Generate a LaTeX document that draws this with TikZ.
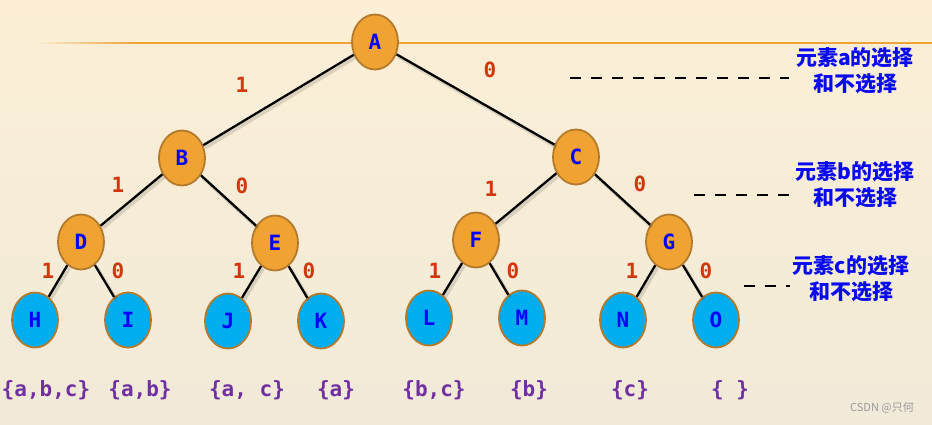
\documentclass[tikz,border=0pt]{standalone}
\usepackage{fontspec}
\usetikzlibrary{shapes.geometric,fadings}
\newfontfamily\mono{DejaVu Sans Mono}
\newfontfamily\cjk{Noto Sans CJK SC}
\definecolor{bgtop}{HTML}{FCEFD6}
\definecolor{bgbot}{HTML}{F1EAD8}
\definecolor{rule}{HTML}{EFA33A}
\definecolor{orangefill}{HTML}{F0A232}
\definecolor{nodeborder}{HTML}{B37A2C}
\definecolor{leafblue}{HTML}{00AEEF}
\definecolor{letterblue}{HTML}{0000FF}
\definecolor{bitred}{HTML}{D2380E}
\definecolor{setpurple}{HTML}{7030A0}
\definecolor{noteblue}{HTML}{0A0AF0}
\definecolor{mark}{HTML}{9A9A9A}
\tikzfading[name=rulefadein, left color=transparent!100, right color=transparent!0]
\begin{document}
\begin{tikzpicture}[x=1pt,y=-1pt,
  inner/.style={ellipse, draw=nodeborder, line width=1.8pt, fill=orangefill,
    minimum width=46pt, minimum height=55pt, inner sep=0pt,
    font=\mono\bfseries\fontsize{21}{21}\selectfont, text=letterblue},
  leaf/.style={inner, fill=leafblue},
  edge/.style={line width=2.3pt, black},
  shadowedge/.style={line width=3.5pt, black, opacity=0.12},
  bit/.style={font=\mono\bfseries\fontsize{21}{21}\selectfont, text=bitred, inner sep=0pt},
  setlab/.style={font=\mono\bfseries\fontsize{21}{21}\selectfont, text=setpurple, inner sep=0pt},
  note/.style={align=center, font=\cjk\bfseries\fontsize{21}{26}\selectfont, text=noteblue, inner sep=0pt},
  guide/.style={line width=2.8pt, black, dash pattern=on 11pt off 10pt}]
\useasboundingbox (0,0) rectangle (932,424);
\shade[top color=bgtop, bottom color=bgbot] (0,0) rectangle (932,424);
% orange rule with faded left end
\fill[rule, path fading=rulefadein] (35,41.5) rectangle (136,43.7);
\fill[rule] (135,41.5) rectangle (932,43.7);
% nodes
\node[inner] (A) at (375,42) {A};
\node[inner] (B) at (182,158) {B};
\node[inner] (C) at (576,157) {C};
\node[inner] (D) at (81,242) {D};
\node[inner] (E) at (275,243) {E};
\node[inner] (F) at (476,240) {F};
\node[inner] (G) at (669,242) {G};
\node[leaf] (H) at (35,320) {H};
\node[leaf] (I) at (128,320) {I};
\node[leaf] (J) at (228,321) {J};
\node[leaf] (K) at (321,321) {K};
\node[leaf] (L) at (429,318) {L};
\node[leaf] (M) at (522,318) {M};
\node[leaf] (N) at (623,320) {N};
\node[leaf] (O) at (716,320) {O};
% edge shadows
\begin{scope}[transform canvas={shift={(2pt,-2.5pt)}}]
\draw[shadowedge] (A) -- (B);
\draw[shadowedge] (A) -- (C);
\draw[shadowedge] (B) -- (D);
\draw[shadowedge] (B) -- (E);
\draw[shadowedge] (C) -- (F);
\draw[shadowedge] (C) -- (G);
\draw[shadowedge] (D) -- (H);
\draw[shadowedge] (D) -- (I);
\draw[shadowedge] (E) -- (J);
\draw[shadowedge] (E) -- (K);
\draw[shadowedge] (F) -- (L);
\draw[shadowedge] (F) -- (M);
\draw[shadowedge] (G) -- (N);
\draw[shadowedge] (G) -- (O);
\end{scope}
% edges
\draw[edge] (A) -- (B);
\draw[edge] (A) -- (C);
\draw[edge] (B) -- (D);
\draw[edge] (B) -- (E);
\draw[edge] (C) -- (F);
\draw[edge] (C) -- (G);
\draw[edge] (D) -- (H);
\draw[edge] (D) -- (I);
\draw[edge] (E) -- (J);
\draw[edge] (E) -- (K);
\draw[edge] (F) -- (L);
\draw[edge] (F) -- (M);
\draw[edge] (G) -- (N);
\draw[edge] (G) -- (O);
% edge labels
\node[bit] (bAB) at (242,85) {1};
\node[bit] (bAC) at (490,70) {0};
\node[bit] (bBD) at (118,185) {1};
\node[bit] (bBE) at (242,186) {0};
\node[bit] (bCF) at (491,189) {1};
\node[bit] (bCG) at (640,184) {0};
\node[bit] (bDH) at (48,271) {1};
\node[bit] (bDI) at (118,271) {0};
\node[bit] (bEJ) at (239,271) {1};
\node[bit] (bEK) at (309,271) {0};
\node[bit] (bFL) at (435,271) {1};
\node[bit] (bFM) at (513,271) {0};
\node[bit] (bGN) at (632,271) {1};
\node[bit] (bGO) at (706,271) {0};
% subsets
\node[setlab] (sH) at (46,390) {\{a,b,c\}};
\node[setlab] (sI) at (140,390) {\{a,b\}};
\node[setlab] (sJ) at (247,390) {\{a, c\}};
\node[setlab] (sK) at (336,390) {\{a\}};
\node[setlab] (sL) at (434,390) {\{b,c\}};
\node[setlab] (sM) at (529,390) {\{b\}};
\node[setlab] (sN) at (630,390) {\{c\}};
\node[setlab] (sO) at (730,390) {\{ \}};
% notes
\node[note] (na) at (855,71) {元素a的选择\\和不选择};
\node[note] (nb) at (855,185) {元素b的选择\\和不选择};
\node[note] (nc) at (851,279) {元素c的选择\\和不选择};
% guides
\coordinate (ga1) at (570,78); \coordinate (ga2) at (789,78);
\coordinate (gb1) at (694,195); \coordinate (gb2) at (790,195);
\coordinate (gc1) at (744,286); \coordinate (gc2) at (790,286);
\draw[guide] (ga1) -- (ga2);
\draw[guide] (gb1) -- (gb2);
\draw[guide] (gc1) -- (gc2);
% watermark
\node[font=\cjk\fontsize{11}{11}\selectfont, text=mark, inner sep=0pt] (wm) at (882,408) {CSDN @只何};
\end{tikzpicture}
\end{document}
